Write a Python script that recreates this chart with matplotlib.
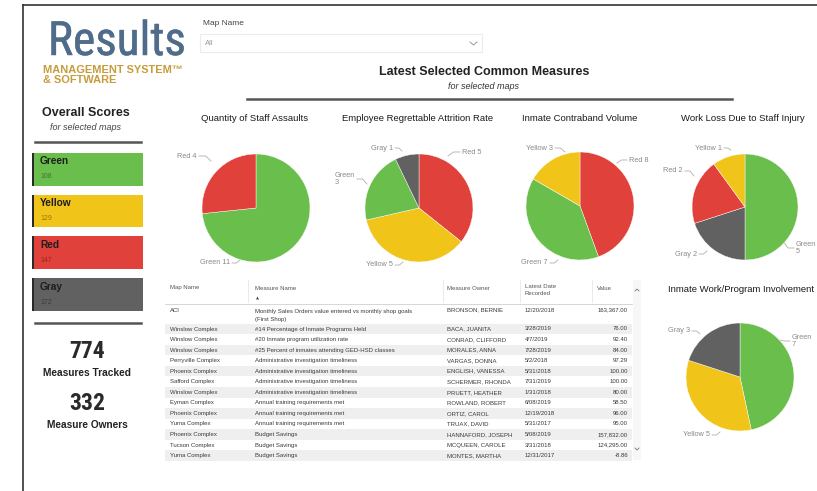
import matplotlib
matplotlib.use('Agg')
import matplotlib.pyplot as plt
from matplotlib.patches import Rectangle
from matplotlib import font_manager as fm
import matplotlib.patheffects as pe

plt.rcParams['font.family'] = ['Liberation Sans', 'DejaVu Sans']

# ---------------- data ----------------
score_names = ['Green', 'Yellow', 'Red', 'Gray']
score_values = [108, 129, 147, 172]
measures_tracked = 774
measure_owners = 332

pie_titles = ['Quantity of Staff Assaults', 'Employee Regrettable Attrition Rate',
              'Inmate Contraband Volume', 'Work Loss Due to Staff Injury',
              'Inmate Work/Program Involvement']
pie_cats = [['Green', 'Red'],
            ['Red', 'Yellow', 'Green', 'Gray'],
            ['Red', 'Green', 'Yellow'],
            ['Green', 'Gray', 'Red', 'Yellow'],
            ['Green', 'Yellow', 'Gray']]
pie_vals = [[11, 4],
            [5, 5, 3, 1],
            [8, 7, 3],
            [5, 2, 2, 1],
            [7, 5, 3]]

table_headers = ['Map Name', 'Measure Name', 'Measure Owner', 'Latest Date\nRecorded', 'Value']
map_names = ['ACI', 'Winslow Complex', 'Winslow Complex', 'Winslow Complex', 'Perryville Complex',
             'Phoenix Complex', 'Safford Complex', 'Winslow Complex', 'Eyman Complex',
             'Phoenix Complex', 'Yuma Complex', 'Phoenix Complex', 'Tucson Complex', 'Yuma Complex']
measure_names = ['Monthly Sales Orders value entered vs monthly shop goals\n(First Shop)',
                 '#14 Percentage of Inmate Programs Held',
                 '#20 Inmate program utilization rate',
                 '#25 Percent of inmates attending GED-HSD classes',
                 'Administrative investigation timeliness',
                 'Administrative investigation timeliness',
                 'Administrative investigation timeliness',
                 'Administrative investigation timeliness',
                 'Annual training requirements met',
                 'Annual training requirements met',
                 'Annual training requirements met',
                 'Budget Savings', 'Budget Savings', 'Budget Savings']
measure_owners_col = ['BRONSON, BERNIE', 'BACA, JUANITA', 'CONRAD, CLIFFORD', 'MORALES, ANNA',
                      'VARGAS, DONNA', 'ENGLISH, VANESSA', 'SCHERMER, RHONDA', 'PRUETT, HEATHER',
                      'ROWLAND, ROBERT', 'ORTIZ, CAROL', 'TRUAX, DAVID', 'HANNAFORD, JOSEPH',
                      'MCQUEEN, CAROLE', 'MONTES, MARTHA']
latest_dates = ['12/20/2018', '3/28/2019', '4/7/2019', '7/28/2019', '5/2/2018', '5/31/2018',
                '7/31/2019', '1/31/2018', '6/08/2019', '12/19/2018', '5/31/2017', '5/08/2019',
                '3/31/2018', '12/31/2017']
values_col = ['163,367.00', '76.00', '92.40', '84.00', '97.29', '100.00', '100.00', '80.00',
              '58.50', '96.00', '95.00', '157,832.00', '124,295.00', '-8.86']

# ---------------- style ----------------
COL = {'Green': '#6abe4b', 'Yellow': '#f1c419', 'Red': '#e0413a', 'Gray': '#616161'}
VAL_COL = {'Green': '#3f7a30', 'Yellow': '#9a7a05', 'Red': '#9a2520', 'Gray': '#3a3a3a'}

names = {f.name for f in fm.fontManager.ttflist}
NARROW = None
for cand in ['Liberation Sans Narrow', 'DejaVu Sans Condensed', 'Roboto Condensed', 'Open Sans Condensed']:
    if cand in names:
        NARROW = cand
        break

W, H = 817, 491
fig = plt.figure(figsize=(W / 100, H / 100), dpi=100)
ax = fig.add_axes([0, 0, 1, 1])
ax.set_xlim(0, W)
ax.set_ylim(H, 0)
ax.axis('off')

# frame
ax.plot([23, W], [5, 5], color='#333333', lw=1.2)
ax.plot([23, 23], [5, H], color='#333333', lw=1.2)

# logo
logo_fx = [pe.withStroke(linewidth=0.35, foreground='#4f6d8a')]
if NARROW:
    ax.text(48, 55, 'Results', fontsize=34, color='#4f6d8a', family=NARROW, va='baseline', ha='left',
            path_effects=logo_fx)
else:
    ax.text(48, 55, 'Results', fontsize=31, color='#4f6d8a', va='baseline', ha='left',
            path_effects=logo_fx)
ax.text(43, 70, 'MANAGEMENT SYSTEM\u2122', fontsize=7.9, color='#c69c3a', weight='bold', va='center')
ax.text(43, 80, '& SOFTWARE', fontsize=7.9, color='#c69c3a', weight='bold', va='center')

# map name dropdown
ax.text(203, 23, 'Map Name', fontsize=6, color='#444444', va='center')
ax.add_patch(Rectangle((200, 34), 282, 18, fill=False, ec='#ececec', lw=0.8))
ax.text(205, 43.5, 'All', fontsize=5.5, color='#999999', va='center')
ax.plot([470, 473.5, 477], [42, 45, 42], color='#999999', lw=0.7)

# main title
ax.text(484, 72, 'Latest Selected Common Measures', fontsize=9, weight='bold', color='#222222',
        ha='center', va='center')
ax.text(484, 86, 'for selected maps', fontsize=6.5, style='italic', color='#333333',
        ha='center', va='center')
ax.plot([247, 732], [99, 99], color='#555555', lw=1.8)

# left panel
ax.text(86, 113, 'Overall Scores', fontsize=9, weight='bold', color='#222222', ha='center', va='center')
ax.text(86, 127, 'for selected maps', fontsize=6.5, style='italic', color='#444444', ha='center', va='center')
ax.plot([35, 141], [142, 142], color='#555555', lw=1.8)
box_top = 153
box_h = 32.5
box_step = 41.7
for i, (nm, v) in enumerate(zip(score_names, score_values)):
    y0 = box_top + i * box_step
    ax.add_patch(Rectangle((32, y0), 111, box_h, fc=COL[nm], ec='none'))
    ax.add_patch(Rectangle((32, y0), 2, box_h, fc='#2a2a2a', ec='none'))
    ax.text(40, y0 + 8.5, nm, fontsize=7.3, weight='bold', color='#1e1e1e', va='center')
    ax.text(40, y0 + 24, str(v), fontsize=5, color=VAL_COL[nm], va='center')
ax.plot([35, 141], [323, 323], color='#555555', lw=1.8)

numfam = NARROW if NARROW else 'Liberation Sans'
numsize = 17 if NARROW else 15
ax.text(87, 352, str(measures_tracked), fontsize=numsize, color='#2a2a2a', ha='center', va='center',
        family=numfam, weight='bold' if NARROW else 'normal')
ax.text(87, 373, 'Measures Tracked', fontsize=7.3, weight='bold', color='#222222', ha='center', va='center')
ax.text(87, 403, str(measure_owners), fontsize=numsize, color='#2a2a2a', ha='center', va='center',
        family=numfam, weight='bold' if NARROW else 'normal')
ax.text(87, 425, 'Measure Owners', fontsize=7.3, weight='bold', color='#222222', ha='center', va='center')

# ---------------- pies ----------------
pie_geo = [(256, 208, 54), (419, 208, 54), (580, 206, 54), (745, 207, 53), (740, 377, 54)]
title_pos = [(255, 118), (418, 118), (580, 118), (743, 118), (741, 289)]
# label layout: (x, y, ha, leader target x, leader target y, two_lines)
label_layout = [
    [(230, 263, 'right', 240, 260, False), (197, 156, 'right', 211, 161, False)],
    [(462, 152, 'left', 448, 156, False), (393, 265, 'right', 403, 262, False),
     (355, 179, 'right', 367, 184, True), (393, 148, 'right', 402, 151, False)],
    [(629, 160, 'left', 617, 163, False), (548, 263, 'right', 558, 260, False),
     (553, 148, 'right', 565, 152, False)],
    [(796, 248, 'left', 783, 241, True), (697, 254, 'right', 707, 251, False),
     (683, 171, 'right', 694, 176, False), (722, 148, 'right', 731, 150, False)],
    [(792, 341, 'left', 780, 340, True), (710, 435, 'right', 720, 432, False),
     (690, 331, 'right', 700, 334, False)],
]

pad = 1.04
for k in range(5):
    cx, cy, r = pie_geo[k]
    rr = r * pad
    pax = fig.add_axes([(cx - rr) / W, 1 - (cy + rr) / H, 2 * rr / W, 2 * rr / H])
    pax.pie(pie_vals[k], colors=[COL[c] for c in pie_cats[k]], startangle=90, counterclock=False,
            wedgeprops=dict(edgecolor='white', linewidth=0.3))
    pax.set_xlim(-pad, pad)
    pax.set_ylim(-pad, pad)
    pax.axis('off')
    tx, ty = title_pos[k]
    ax.text(tx, ty, pie_titles[k], fontsize=6.8, color='#1a1a1a', ha='center', va='center')
    for (c, v, lay) in zip(pie_cats[k], pie_vals[k], label_layout[k]):
        lx, ly, ha, gx, gy, two = lay
        txt = f'{c}\n{v}' if two else f'{c} {v}'
        ax.text(lx, ly, txt, fontsize=5.3, color='#8a8a8a', ha=ha, va='center', linespacing=1.1,
                multialignment='left')
        sx = lx + 2 if ha == 'right' else lx - 2
        mx = sx + 0.55 * (gx - sx)
        ax.plot([sx, mx, gx], [ly, ly, gy], color='#b0b0b0', lw=0.6)

# ---------------- table ----------------
col_x = [170, 255, 447, 525, 628]
col_ha = ['left', 'left', 'left', 'left', 'right']
tfs = 4.3
for j, hd in enumerate(table_headers):
    ax.text(col_x[j] if j < 4 else 597, 288 if '\n' not in hd else 290, hd, fontsize=tfs,
            color='#555555', ha='left', va='center', linespacing=1.6)
for xs in [248, 443, 520, 592]:
    ax.plot([xs, xs], [280, 302], color='#e8e8e8', lw=0.6)
ax.text(257, 299, '\u25b2', fontsize=2.8, color='#444444', ha='center', va='center',
        family=['DejaVu Sans'])
ax.plot([165, 632], [303.5, 303.5], color='#d0d0d0', lw=0.6)

row_y = [315] + [329 + (i - 1) * 10.55 for i in range(1, len(map_names))]
for i in range(len(map_names)):
    y = row_y[i]
    if i % 2 == 1:
        ax.add_patch(Rectangle((165, y - 5.3), 467, 10.55, fc='#efefef', ec='none'))
    cells = [map_names[i], measure_names[i], measure_owners_col[i], latest_dates[i], values_col[i]]
    for j, cell in enumerate(cells):
        if i == 0:
            yt = 315 if '\n' in cell else 310
        else:
            yt = y
        ax.text(col_x[j], yt, cell, fontsize=tfs, color='#3a3a3a', ha=col_ha[j], va='center',
                linespacing=1.75)

# scrollbar
ax.add_patch(Rectangle((633, 280), 8, 180, fc='#f7f7f7', ec='none'))
ax.plot([635, 637, 639], [291, 289, 291], color='#777777', lw=0.6)
ax.plot([635, 637, 639], [448, 450, 448], color='#777777', lw=0.6)

fig.savefig('out.png', dpi=100)
